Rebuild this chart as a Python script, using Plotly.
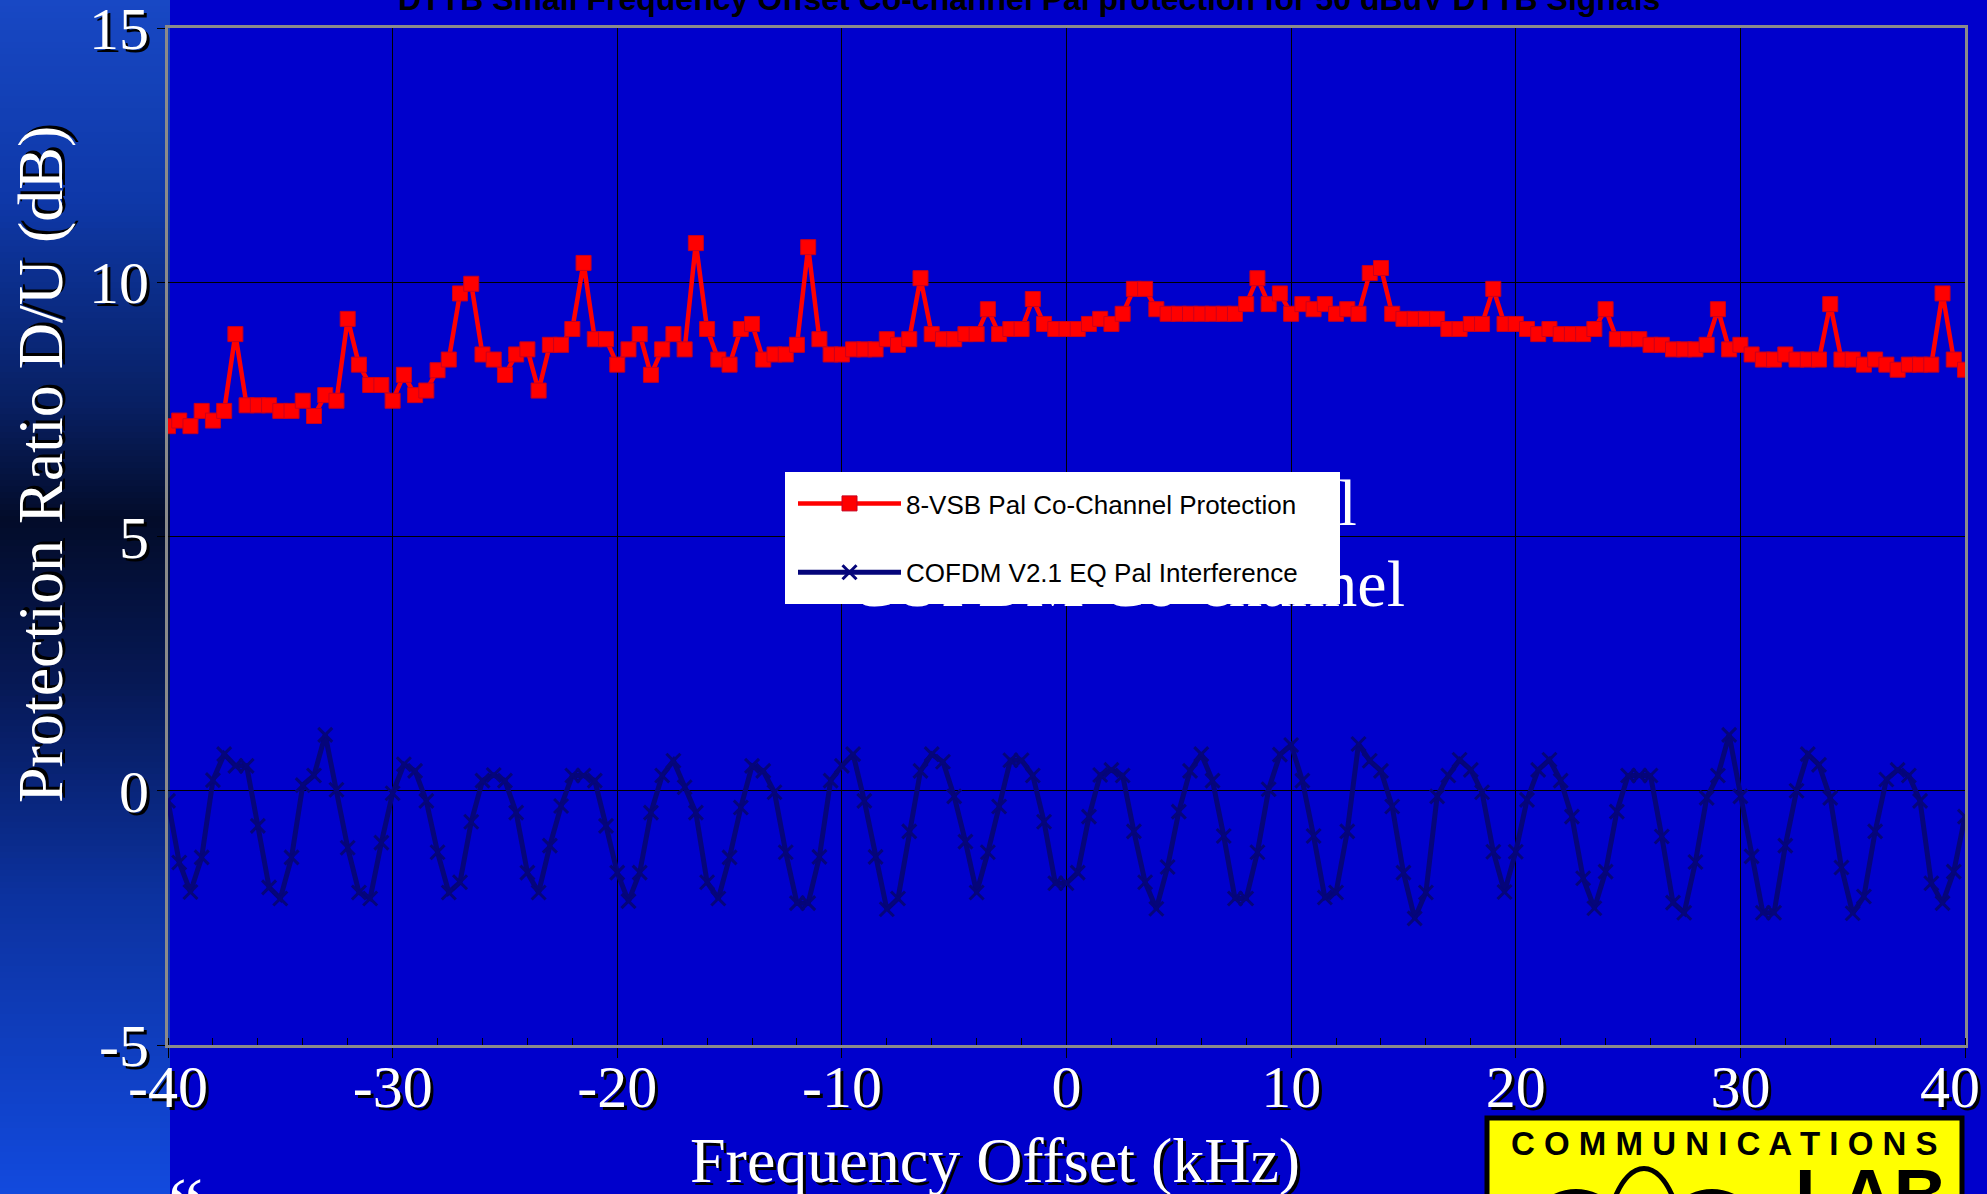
import plotly.graph_objects as go

# ---------------- data ----------------
freq_khz = [-40 + 0.5 * i for i in range(161)]

vsb_pal_protection = [
    7.17, 7.28, 7.17, 7.47, 7.28, 7.47, 8.98, 7.58, 7.58, 7.58,
    7.47, 7.47, 7.67, 7.37, 7.78, 7.67, 9.28, 8.38, 7.98, 7.98,
    7.67, 8.18, 7.78, 7.87, 8.27, 8.48, 9.78, 9.97, 8.58, 8.48,
    8.18, 8.58, 8.68, 7.87, 8.77, 8.77, 9.08, 10.38, 8.88, 8.88,
    8.38, 8.68, 8.98, 8.18, 8.68, 8.98, 8.68, 10.77, 9.08, 8.48,
    8.38, 9.08, 9.18, 8.48, 8.58, 8.58, 8.77, 10.69, 8.88, 8.58,
    8.58, 8.68, 8.68, 8.68, 8.88, 8.77, 8.88, 10.08, 8.98, 8.88,
    8.88, 8.98, 8.98, 9.47, 8.98, 9.08, 9.08, 9.67, 9.18, 9.08,
    9.08, 9.08, 9.18, 9.28, 9.18, 9.38, 9.87, 9.87, 9.47, 9.38,
    9.38, 9.38, 9.38, 9.38, 9.38, 9.38, 9.57, 10.08, 9.57, 9.78,
    9.38, 9.57, 9.47, 9.57, 9.38, 9.47, 9.38, 10.18, 10.28, 9.38,
    9.28, 9.28, 9.28, 9.28, 9.08, 9.08, 9.18, 9.18, 9.87, 9.18,
    9.18, 9.08, 8.98, 9.08, 8.98, 8.98, 8.98, 9.08, 9.47, 8.88,
    8.88, 8.88, 8.77, 8.77, 8.68, 8.68, 8.68, 8.77, 9.47, 8.68,
    8.77, 8.58, 8.48, 8.48, 8.58, 8.48, 8.48, 8.48, 9.57, 8.48,
    8.48, 8.38, 8.48, 8.38, 8.28, 8.38, 8.38, 8.38, 9.78, 8.48,
    8.28,
]

cofdm_pal_interference = [
    -0.20, -1.41, -1.99, -1.31, 0.21, 0.72, 0.49, 0.49, -0.69, -1.90,
    -2.12, -1.31, 0.11, 0.30, 1.10, 0.02, -1.12, -2.00, -2.12, -1.02,
    -0.05, 0.52, 0.39, -0.20, -1.21, -2.00, -1.80, -0.61, 0.20, 0.31,
    0.20, -0.43, -1.61, -2.00, -1.08, -0.30, 0.30, 0.30, 0.20, -0.69,
    -1.61, -2.17, -1.61, -0.43, 0.30, 0.59, 0.07, -0.43, -1.80, -2.12,
    -1.31, -0.33, 0.49, 0.39, -0.03, -1.21, -2.21, -2.21, -1.30, 0.20,
    0.49, 0.72, -0.20, -1.30, -2.33, -2.12, -0.80, 0.39, 0.72, 0.57,
    -0.11, -1.00, -2.00, -1.21, -0.31, 0.60, 0.60, 0.30, -0.61, -1.82,
    -1.82, -1.61, -0.51, 0.31, 0.41, 0.30, -0.80, -1.80, -2.32, -1.50,
    -0.41, 0.39, 0.72, 0.20, -0.89, -2.12, -2.12, -1.21, 0.03, 0.71,
    0.90, 0.20, -0.89, -2.10, -2.00, -0.80, 0.92, 0.59, 0.39, -0.31,
    -1.61, -2.51, -2.00, -0.11, 0.30, 0.61, 0.41, -0.03, -1.20, -1.99,
    -1.20, -0.18, 0.41, 0.61, 0.20, -0.51, -1.72, -2.31, -1.59, -0.41,
    0.30, 0.30, 0.30, -0.90, -2.20, -2.40, -1.40, -0.14, 0.30, 1.10,
    -0.11, -1.29, -2.40, -2.40, -1.08, 0.00, 0.72, 0.51, -0.14, -1.51,
    -2.41, -2.08, -0.80, 0.22, 0.41, 0.30, -0.20, -1.82, -2.21, -1.59,
    -0.51,
]

x_tick_vals = [-40, -30, -20, -10, 0, 10, 20, 30, 40]
x_tick_text = ["-40", "-30", "-20", "-10", "0", "10", "20", "30", "40\u00a0\u00a0"]
y_tick_vals = [-5, 0, 5, 10, 15]
y_tick_text = ["-5", "0", "5", "10", "15"]

series_names = ["8-VSB Pal Co-Channel Protection", "COFDM V2.1 EQ Pal Interference"]
backdrop_lines = ["8-VSB Co-channel", "COFDM Co-channel"]
chart_title = "DTTB Small Frequency Offset Co-channel Pal protection for 50 dBuV DTTB Signals"

# ---------------- geometry helpers ----------------
W, H = 1987, 1194
ML, MR, MT, MB = 168, 22, 28, 149
PW, PH = W - ML - MR, H - MT - MB


def px(xp):
    return (xp - ML) / PW


def py(yp):
    return (H - MB - yp) / PH


SERIF = "Liberation Serif, Times New Roman, serif"
SANS = "Liberation Sans, Arial, sans-serif"
NARROW = "Liberation Sans Narrow, Arial Narrow, Liberation Sans, Arial, sans-serif"
SHADOW = "3px 3px 0px black"
PAD = "\u00a0" * 4

fig = go.Figure()

# slide text hidden behind the legend (only its line ends peek out)
fig.add_trace(go.Scatter(
    x=[12.93, 15.07], y=[5.55, 3.95], mode="text", text=backdrop_lines,
    textposition="middle left", cliponaxis=False,
    textfont=dict(family=SERIF, size=66, color="white"),
    showlegend=False, hoverinfo="skip"))

fig.add_trace(go.Scatter(
    x=freq_khz, y=vsb_pal_protection, mode="lines+markers", name=series_names[0] + PAD,
    legendgroup="a",
    line=dict(color="#FF0000", width=4.5),
    marker=dict(symbol="square", size=15, color="#FF0000",
                line=dict(color="#C8001E", width=1))))

fig.add_trace(go.Scatter(
    x=freq_khz, y=cofdm_pal_interference, mode="lines+markers", name=series_names[1] + PAD,
    legendgroup="b",
    line=dict(color="#05057A", width=5),
    marker=dict(symbol="x-thin-open", size=14, color="#05057A",
                line=dict(color="#05057A", width=3))))

# ---------------- left gradient strip ----------------
stops = [(0, (24, 72, 196)), (200, (14, 56, 168)), (400, (8, 32, 100)),
         (520, (3, 12, 42)), (680, (6, 24, 84)), (900, (12, 50, 160)),
         (1194, (18, 74, 222))]


def grad(yv):
    for (y0, c0), (y1, c1) in zip(stops[:-1], stops[1:]):
        if y0 <= yv <= y1:
            t = (yv - y0) / (y1 - y0)
            return "rgb(%d,%d,%d)" % tuple(round(a + (b - a) * t) for a, b in zip(c0, c1))
    return "rgb(%d,%d,%d)" % stops[-1][1]


shapes = []
step = 6
for yy in range(0, H, step):
    shapes.append(dict(type="rect", xref="paper", yref="paper", layer="below",
                       x0=px(0), x1=px(170), y0=py(yy + step + 0.5), y1=py(yy),
                       fillcolor=grad(yy + step / 2), line=dict(width=0)))

# ---------------- logo ----------------
shapes.append(dict(type="rect", xref="paper", yref="paper", layer="above",
                   x0=px(1487), x1=px(1962), y0=py(1210), y1=py(1118),
                   fillcolor="#FFFF00", line=dict(color="black", width=5)))


def P(xp, yp):
    return "%.5f,%.5f" % (px(xp), py(yp))


bell = ("M" + P(1548, 1200) + " Q" + P(1576, 1183) + " " + P(1604, 1200)
        + " M" + P(1614, 1200) + " C" + P(1630, 1158) + " " + P(1658, 1158) + " " + P(1674, 1200)
        + " M" + P(1684, 1200) + " Q" + P(1712, 1183) + " " + P(1740, 1200))
shapes.append(dict(type="path", xref="paper", yref="paper", layer="above",
                   path=bell, line=dict(color="black", width=5)))

annotations = [
    dict(text=chart_title, xref="paper", yref="paper", x=px(1029), y=py(-1),
         xanchor="center", yanchor="middle", showarrow=False,
         font=dict(family=NARROW, size=32, color="black", weight="bold")),
    dict(text="Protection Ratio D/U (dB)", xref="paper", yref="paper",
         x=px(40), y=py(465), xanchor="center", yanchor="middle", textangle=-90,
         showarrow=False, font=dict(family=SERIF, size=64, color="white", shadow=SHADOW)),
    dict(text="Frequency Offset (kHz)", xref="paper", yref="paper",
         x=px(995), y=py(1160), xanchor="center", yanchor="middle",
         showarrow=False, font=dict(family=SERIF, size=64, color="white", shadow=SHADOW)),
    dict(text="\u201c", xref="paper", yref="paper", x=px(166), y=py(1160),
         xanchor="left", yanchor="top", showarrow=False,
         font=dict(family=SERIF, size=80, color="white")),
    dict(text="C O M M U N I C A T I O N S", xref="paper", yref="paper", x=px(1724), y=py(1143),
         xanchor="center", yanchor="middle", showarrow=False,
         font=dict(family=SANS, size=33, color="black", weight="bold")),
    dict(text="LAB", xref="paper", yref="paper", x=px(1793), y=py(1152),
         xanchor="left", yanchor="top", showarrow=False,
         font=dict(family=SANS, size=74, color="black", weight="bold")),
]

axis_common = dict(
    showgrid=True, gridcolor="black", gridwidth=1, zeroline=False,
    showline=True, linecolor="#8A8A8A", linewidth=3, mirror=True,
    ticks="outside", tickcolor="black", tickwidth=1,
    tickfont=dict(family=SERIF, size=60, color="white", shadow=SHADOW),
    tickmode="array", fixedrange=True, ticklabeloverflow="allow",
    automargin=False,
)

fig.update_layout(
    width=W, height=H, autosize=False,
    margin=dict(l=ML, r=MR, t=MT, b=MB, pad=0, autoexpand=False),
    paper_bgcolor="#0000CC", plot_bgcolor="#0000CC",
    xaxis=dict(range=[-40, 40], tickvals=x_tick_vals, ticktext=x_tick_text,
               ticklen=10, ticklabelstandoff=-23,
               minor=dict(dtick=2, ticks="inside", ticklen=7, tickcolor="black",
                          showgrid=False),
               **axis_common),
    yaxis=dict(range=[-5, 15], tickvals=y_tick_vals, ticktext=y_tick_text,
               ticklen=8, ticklabelstandoff=-4, **axis_common),
    showlegend=True,
    legend=dict(x=px(785), y=py(472), xanchor="left", yanchor="top",
                bgcolor="white", bordercolor="white", borderwidth=8,
                font=dict(family=SANS, size=26, color="black"),
                itemwidth=103, tracegroupgap=32, traceorder="grouped"),
    shapes=shapes,
    annotations=annotations,
)

fig.write_html("out.html")
